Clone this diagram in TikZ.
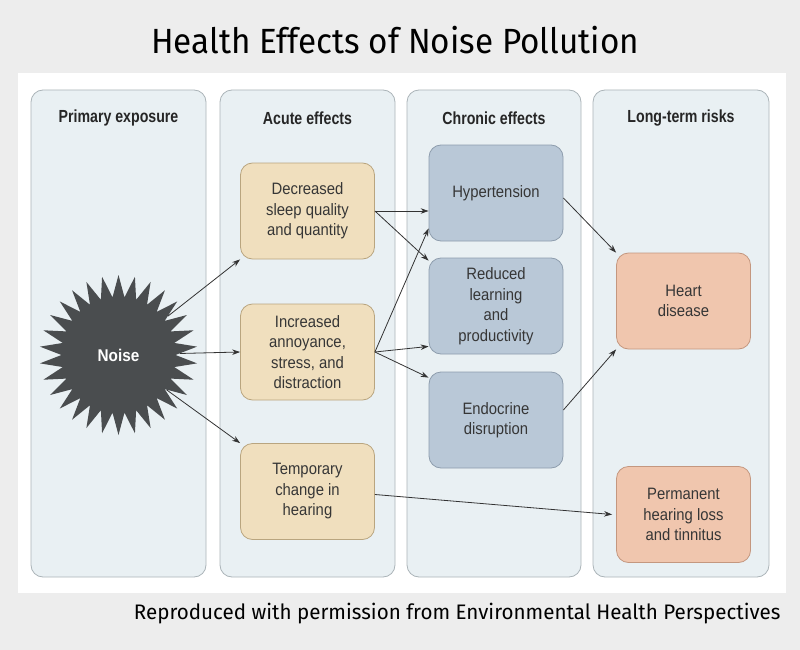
\documentclass[tikz,border=0pt]{standalone}
\usepackage{fontspec}
\usetikzlibrary{arrows.meta,shapes.symbols,calc}
\newfontfamily\boxfont[FakeStretch=0.9]{Liberation Sans}
\newfontfamily\headfont[FakeStretch=0.81]{Liberation Sans}
\newfontfamily\titlefont[FakeStretch=0.95]{Fira Sans}
\newfontfamily\footfont[FakeStretch=0.98]{Fira Sans}
\definecolor{bgc}{HTML}{EDEDED}
\definecolor{colfill}{HTML}{E9F0F3}
\definecolor{colline}{HTML}{ABB4B8}
\definecolor{acfill}{HTML}{F0DFBE}
\definecolor{acline}{HTML}{B9A57F}
\definecolor{chfill}{HTML}{B9C8D7}
\definecolor{chline}{HTML}{8E9DAD}
\definecolor{ltfill}{HTML}{F0C6AE}
\definecolor{ltline}{HTML}{C4977F}
\definecolor{burst}{HTML}{4A4D4F}
\definecolor{txt}{HTML}{363636}
\tikzset{
  column/.style={draw=colline, fill=colfill, line width=0.8pt, rounded corners=12pt,
    minimum height=487pt, inner sep=0pt},
  header/.style={font=\headfont\bfseries\fontsize{17.5}{20}\selectfont, text=black!85},
  box/.style={rounded corners=12pt, line width=0.8pt, minimum width=134pt, minimum height=96pt,
    align=center, inner sep=0pt, text=txt, font=\boxfont\fontsize{16.5}{20.5}\selectfont},
  acute/.style={box, draw=acline, fill=acfill},
  chronic/.style={box, draw=chline, fill=chfill},
  longterm/.style={box, draw=ltline, fill=ltfill},
  arr/.style={draw=black!80, line width=0.8pt, -{Stealth[length=8pt,width=5.5pt]}},
}
\begin{document}
\begin{tikzpicture}[x=1pt,y=-1pt]
\fill[bgc] (0,0) rectangle (800,650);
\useasboundingbox (0,0) rectangle (800,650);
\fill[white] (18,73) rectangle (786,593);

% title and footer
\node[font=\titlefont\fontsize{35}{40}\selectfont, text=black] (title) at (395,40) {Health Effects of Noise Pollution};
\node[font=\footfont\fontsize{21}{24}\selectfont, text=black, anchor=east] (foot) at (784,614) {Reproduced with permission from Environmental Health Perspectives};

% columns
\node[column, minimum width=175pt] (col1) at (118.5,333.5) {};
\node[column, minimum width=175pt] (col2) at (307.5,333.5) {};
\node[column, minimum width=174pt] (col3) at (494,333.5) {};
\node[column, minimum width=176pt] (col4) at (681,333.5) {};

\node[header] (h1) at (118.5,118) {Primary exposure};
\node[header] (h2) at (307.5,118) {Acute effects};
\node[header] (h3) at (494,118) {Chronic effects};
\node[header] (h4) at (681,118) {Long-term risks};

% noise
\node[starburst, starburst points=30, starburst point height=22pt, random starburst=0,
  fill=burst, draw=none, minimum width=158pt, minimum height=160pt, inner sep=0pt,
  text=white, font=\boxfont\bfseries\fontsize{17}{20}\selectfont] (noise) at (118.5,355) {Noise};

% acute
\node[acute] (sleep) at (307.5,211) {Decreased\\sleep quality\\and quantity};
\node[acute] (annoy) at (307.5,352) {Increased\\annoyance,\\stress, and\\distraction};
\node[acute] (temp) at (307.5,491.5) {Temporary\\change in\\hearing};

% chronic
\node[chronic] (hyper) at (496,193) {Hypertension};
\node[chronic] (learn) at (496,306) {Reduced\\learning\\and\\productivity};
\node[chronic] (endo) at (496,420) {Endocrine\\disruption};

% long-term
\node[longterm] (heart) at (683.5,301) {Heart\\disease};
\node[longterm] (perm) at (683.5,514.5) {Permanent\\hearing loss\\and tinnitus};

% connectors
\draw[arr] (noise) -- (sleep.south west);
\draw[arr] (noise) -- (annoy.west);
\draw[arr] (noise) -- (temp.north west);
\draw[arr] (sleep.east) -- (hyper.west |- sleep.east);
\draw[arr] (sleep.east) -- ([yshift=-3pt]learn.north west);
\draw[arr] (annoy.east) -- ([yshift=13pt]hyper.south west);
\draw[arr] (annoy.east) -- ([yshift=8pt]learn.south west);
\draw[arr] (annoy.east) -- ([yshift=-6pt]endo.north west);
\draw[arr] ([yshift=-5pt]hyper.east) -- (heart.north west);
\draw[arr] ([yshift=10pt]endo.east) -- (heart.south west);
\draw[arr] ([yshift=-3pt]temp.east) -- ([xshift=-4pt]perm.west);
\end{tikzpicture}
\end{document}
